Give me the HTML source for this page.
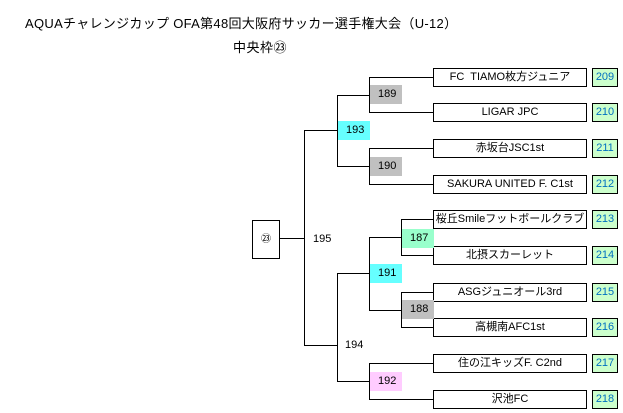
<!DOCTYPE html><html><head><meta charset="utf-8"><style>
body{margin:0;width:623px;height:413px;background:#fff;position:relative;overflow:hidden;font-family:"Liberation Sans","Noto Sans CJK JP",sans-serif;color:#000}
.a{position:absolute}
.t{position:absolute;left:433px;width:152px;height:17px;border:1px solid #000;font-size:11px;line-height:17px;text-align:center;background:#fff}
.n{position:absolute;left:592px;width:24px;height:17px;border:1px solid #000;background:#ccffcc;color:#0070c0;font-size:11px;line-height:17px;text-align:center}
.h{position:absolute;height:1px;background:#000}
.v{position:absolute;width:1px;background:#000}
.m{position:absolute;width:32px;height:19px;font-size:11px;line-height:19px;padding-left:8px;box-sizing:border-box}
</style></head><body>
<div class="a" style="left:25px;top:13px;font-size:13px;letter-spacing:0.3px">AQUAチャレンジカップ OFA第48回大阪府サッカー選手権大会（U-12）</div>
<div class="a" style="left:233px;top:37px;font-size:13px;letter-spacing:0.5px">中央枠㉓</div>

<div class="t" style="top:68px">FC&nbsp; TIAMO枚方ジュニア</div><div class="n" style="top:68px">209</div>
<div class="t" style="top:103px">LIGAR JPC</div><div class="n" style="top:103px">210</div>
<div class="t" style="top:139px">赤坂台JSC1st</div><div class="n" style="top:139px">211</div>
<div class="t" style="top:175px">SAKURA UNITED F. C1st</div><div class="n" style="top:175px">212</div>
<div class="t" style="top:210px">桜丘Smileフットボールクラブ</div><div class="n" style="top:210px">213</div>
<div class="t" style="top:246px">北摂スカーレット</div><div class="n" style="top:246px">214</div>
<div class="t" style="top:283px">ASGジュニオール3rd</div><div class="n" style="top:283px">215</div>
<div class="t" style="top:318px">高槻南AFC1st</div><div class="n" style="top:318px">216</div>
<div class="t" style="top:354px">住の江キッズF. C2nd</div><div class="n" style="top:354px">217</div>
<div class="t" style="top:390px">沢池FC</div><div class="n" style="top:390px">218</div>

<div class="h" style="left:369px;width:64px;top:77px"></div><div class="h" style="left:369px;width:64px;top:112px"></div><div class="v" style="left:369px;top:77px;height:36px"></div>
<div class="m" style="left:370px;top:85px;background:#c0c0c0">189</div>
<div class="h" style="left:369px;width:64px;top:148px"></div><div class="h" style="left:369px;width:64px;top:184px"></div><div class="v" style="left:369px;top:148px;height:37px"></div>
<div class="m" style="left:370px;top:157px;background:#c0c0c0">190</div>
<div class="h" style="left:337px;width:32px;top:95px"></div><div class="h" style="left:337px;width:32px;top:166px"></div><div class="v" style="left:337px;top:95px;height:72px"></div>
<div class="m" style="left:338px;top:121px;background:#66ffff">193</div>
<div class="h" style="left:401px;width:32px;top:219px"></div><div class="h" style="left:401px;width:32px;top:255px"></div><div class="v" style="left:401px;top:219px;height:37px"></div>
<div class="m" style="left:402px;top:229px;background:#99ffcc">187</div>
<div class="h" style="left:401px;width:32px;top:292px"></div><div class="h" style="left:401px;width:32px;top:327px"></div><div class="v" style="left:401px;top:292px;height:36px"></div>
<div class="m" style="left:402px;top:300px;background:#c0c0c0">188</div>
<div class="h" style="left:369px;width:32px;top:237px"></div><div class="h" style="left:369px;width:32px;top:310px"></div><div class="v" style="left:369px;top:237px;height:74px"></div>
<div class="m" style="left:370px;top:264px;background:#66ffff">191</div>
<div class="h" style="left:369px;width:64px;top:363px"></div><div class="h" style="left:369px;width:64px;top:399px"></div><div class="v" style="left:369px;top:363px;height:37px"></div>
<div class="m" style="left:370px;top:372px;background:#ffccff">192</div>
<div class="h" style="left:337px;width:32px;top:273px"></div><div class="h" style="left:337px;width:32px;top:381px"></div><div class="v" style="left:337px;top:273px;height:109px"></div>
<div class="a" style="left:345px;top:339px;font-size:11px">194</div>
<div class="h" style="left:304px;width:33px;top:130px"></div><div class="h" style="left:304px;width:33px;top:345px"></div><div class="v" style="left:304px;top:130px;height:216px"></div>
<div class="a" style="left:313px;top:233px;font-size:11px">195</div>
<div class="h" style="left:279px;width:25px;top:238px"></div>
<div class="a" style="left:252px;top:220px;width:26px;height:37px;border:1px solid #000;font-size:10px;line-height:37px;text-align:center">㉓</div>
</body></html>
